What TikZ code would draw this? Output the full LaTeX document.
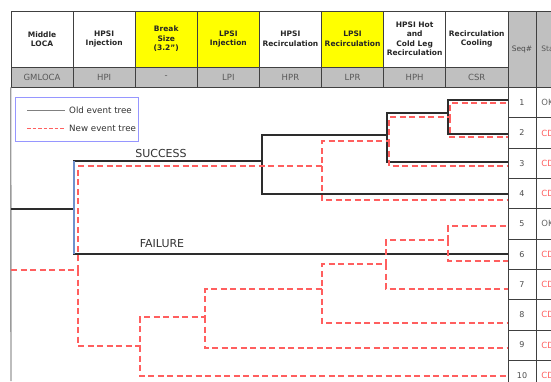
\documentclass[tikz,border=0pt]{standalone}
\usepackage{fontspec}
\setmainfont{DejaVu Sans}
\usetikzlibrary{positioning}
\definecolor{hdrgray}{RGB}{192,192,192}
\definecolor{cellyellow}{RGB}{255,255,0}
\definecolor{newred}{RGB}{255,95,95}
\definecolor{oldblack}{RGB}{45,45,45}
\definecolor{linkblue}{RGB}{110,145,205}
\definecolor{legendblue}{RGB}{150,150,255}
\definecolor{framegray}{RGB}{155,155,155}

\tikzset{
  hdrcell/.style={draw=black!75, line width=0.6pt, minimum width=62.1pt, minimum height=56pt, inner sep=0pt, align=center, font=\fontsize{7.5}{9.5}\selectfont\bfseries, text=black!85},
  codecell/.style={draw=black!75, line width=0.6pt, fill=hdrgray, minimum width=62.1pt, minimum height=19.5pt, inner sep=0pt, font=\fontsize{8.5}{9}\selectfont, text=black!65},
  seqcell/.style={draw=black!75, line width=0.7pt, fill=white, minimum width=28pt, minimum height=30.3pt, inner sep=0pt, font=\fontsize{8}{9}\selectfont, text=black!70},
  statcell/.style={seqcell, anchor=west, text width=44pt, inner xsep=5pt, align=left, font=\fontsize{8.5}{9}\selectfont},
  oldtree/.style={draw=oldblack, line width=1.1pt},
  newtree/.style={draw=newred, line width=1.3pt, dash pattern=on 6pt off 3.5pt},
}

\begin{document}
\begin{tikzpicture}[x=1pt,y=-1pt]
            \useasboundingbox (0,0) rectangle (551,381);
            \clip (0,0) rectangle (551,381);
            \fill[white] (0,0) rectangle (551,381);

            % Header cells and codes
            \foreach \i/\txt/\code/\col in {
                0/{Middle\\LOCA}/GMLOCA/white,
                1/{HPSI\\Injection}/HPI/white,
                2/{Break\\Size\\(3.2”)}/-/cellyellow,
                3/{LPSI\\Injection}/LPI/cellyellow,
                4/{HPSI\\Recirculation}/HPR/white,
                5/{LPSI\\Recirculation}/LPR/cellyellow,
                6/{HPSI Hot\\and\\Cold Leg\\Recirculation}/HPH/white,
                7/{Recirculation\\Cooling}/CSR/white} {
                \node[hdrcell, fill=\col] (h\i) at ({42.05+62.1*\i},39) {\txt};
                \node[codecell, below=0pt of h\i] (c\i) {\code};
            }

            % Sequence and status columns
            \node[seqcell, fill=hdrgray, minimum height=76pt, font=\fontsize{7.5}{9}\selectfont] (seqhdr) at (522,49) {Seq\#};
            \node[statcell, fill=hdrgray, minimum height=76pt, text=black!65, font=\fontsize{7.5}{9}\selectfont] (stathdr) at (536,49) {Status};
            \foreach \n/\st/\col in {1/OK/black!60, 2/CD/newred, 3/CD/newred, 4/CD/newred, 5/OK/black!60,
                                     6/CD/newred, 7/CD/newred, 8/CD/newred, 9/CD/newred, 10/CD/newred} {
                \node[seqcell] (q\n) at (522,{87.5+30.3*(\n-0.5)}) {\n};
                \node[statcell, text=\col] (s\n) at (536,{87.5+30.3*(\n-0.5)}) {\st};
            }

            % Left frame
            \draw[framegray, line width=1.4pt] (c0.south west) -- (11,381);

            % Legend
            \node[draw=legendblue, line width=0.8pt, fill=white, minimum width=123pt, minimum height=44pt] (legend) at (76.5,119) {};
            \node[anchor=west, inner sep=0pt, font=\fontsize{8.7}{10}\selectfont, text=black!80] (oldlbl) at (69,110) {Old event tree};
            \node[anchor=west, inner sep=0pt, font=\fontsize{8.7}{10}\selectfont, text=black!80] (newlbl) at (69,128) {New event tree};
            \draw[black!50, line width=0.8pt] (27,110) -- ([xshift=-4pt]oldlbl.west);
            \draw[newred, line width=0.8pt, dash pattern=on 3.5pt off 2pt] (27,128) -- ([xshift=-4pt]newlbl.west);

            % Old event tree
            \coordinate (o0) at (11,209);
            \coordinate (o1) at (74,209);
            \coordinate (o2) at (262,161);
            \coordinate (o3) at (387,135);
            \coordinate (o4) at (448,113);
            \foreach \n/\y in {1/100, 2/134, 3/162, 4/194, 6/254}
                \coordinate (oe\n) at (508,\y);
            \draw[oldtree] (o0) -- (o1) |- (o2) |- (o3) |- (o4) |- (oe1);
            \draw[oldtree] (o4) |- (oe2);
            \draw[oldtree] (o3) |- (oe3);
            \draw[oldtree] (o2) |- (oe4);
            \draw[oldtree] (o1) |- (oe6);
            \draw[linkblue, line width=1.1pt] (o1 |- o2) -- (o1 |- oe6);

            % New event tree
            \coordinate (n0) at (11,270);
            \coordinate (n1) at (78,270);
            \coordinate (n2) at (322,166);
            \coordinate (n3) at (389,141);
            \coordinate (n4) at (450,117);
            \coordinate (n5) at (140,346);
            \coordinate (n6) at (205,317);
            \coordinate (n7) at (322,289);
            \coordinate (n8) at (386,264);
            \coordinate (n9) at (448,240);
            \foreach \n/\y in {1/103, 2/137, 3/166, 4/200, 5/226, 6/261, 7/289, 8/323, 9/348, 10/376}
                \coordinate (ne\n) at (508,\y);
            \draw[newtree] (n0) -- (n1) |- (n2) |- (n3) |- (n4) |- (ne1);
            \draw[newtree] (n4) |- (ne2);
            \draw[newtree] (n3) |- (ne3);
            \draw[newtree] (n2) |- (ne4);
            \draw[newtree] (n1) |- (n5) |- (n6) |- (n7) |- (n8) |- (n9) |- (ne5);
            \draw[newtree] (n9) |- (ne6);
            \draw[newtree] (n8) |- (ne7);
            \draw[newtree] (n7) |- (ne8);
            \draw[newtree] (n6) |- (ne9);
            \draw[newtree] (n5) |- (ne10);

            % Branch labels
            \node[font=\fontsize{11}{12}\selectfont, text=black!80] (success) at (161,153) {SUCCESS};
            \node[font=\fontsize{11}{12}\selectfont, text=black!80] (failure) at (162,244) {FAILURE};
        \end{tikzpicture}
\end{document}
